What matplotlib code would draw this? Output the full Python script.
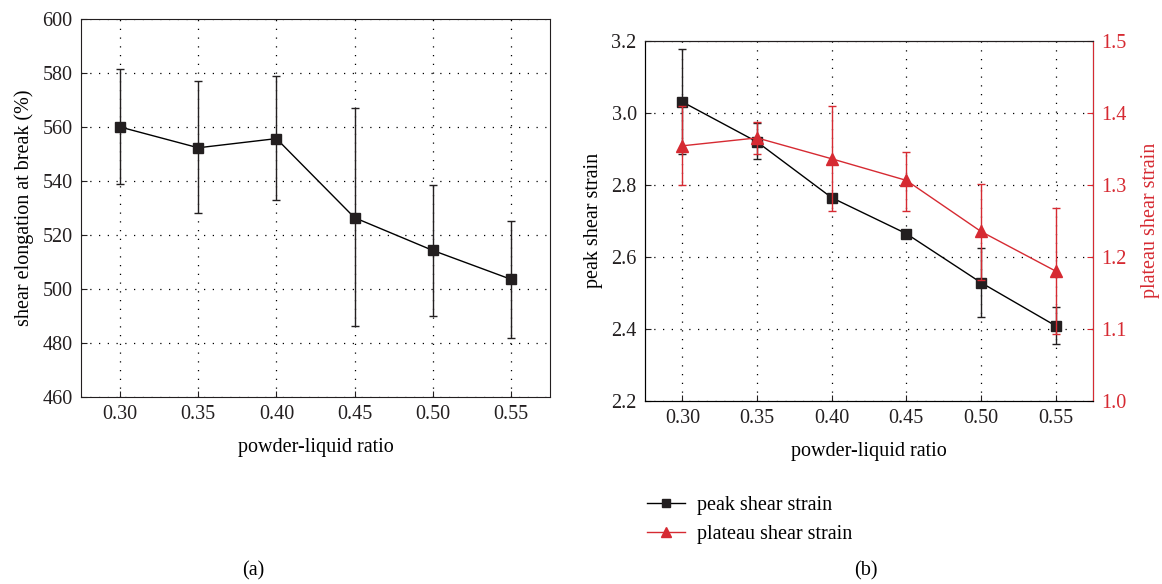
import numpy as np
import matplotlib
matplotlib.use("Agg")
import matplotlib.pyplot as plt
from matplotlib.lines import Line2D

plt.rcParams["font.family"] = ["Liberation Serif", "DejaVu Serif"]
plt.rcParams["font.size"] = 14.5

# -- data
ratio = [0.30, 0.35, 0.40, 0.45, 0.50, 0.55]

elong     = [560.0, 552.3, 555.7, 526.4, 514.3, 503.6]
elong_top = [581.5, 577.2, 578.8, 567.2, 538.6, 525.2]
elong_bot = [538.8, 528.3, 532.8, 486.3, 489.9, 481.9]

peak     = [3.030, 2.919, 2.764, 2.664, 2.528, 2.408]
peak_top = [3.176, 2.971, 2.774, 2.672, 2.623, 2.461]
peak_bot = [2.884, 2.871, 2.754, 2.656, 2.433, 2.357]

plat     = [1.354, 1.365, 1.336, 1.306, 1.235, 1.180]
plat_top = [1.410, 1.387, 1.409, 1.345, 1.301, 1.267]
plat_bot = [1.299, 1.342, 1.263, 1.263, 1.167, 1.092]

xticks = [0.30, 0.35, 0.40, 0.45, 0.50, 0.55]
red = "#d62a32"
dark = "#231f20"
grid_kw = dict(color="k", linestyle=(0, (1, 6)), linewidth=0.9)


def errs(v, top, bot):
    v = np.array(v)
    return [v - np.array(bot), np.array(top) - v]


plt.close("all")
fig = plt.figure(figsize=(11.62, 5.84), dpi=100)

# -- panel (a)
ax = fig.add_axes([0.0697, 0.3202, 0.4036, 0.6473])
ax.errorbar(ratio, elong, yerr=errs(elong, elong_top, elong_bot),
            color="k", lw=1.0, marker="s", ms=7, mfc=dark, mec=dark,
            ecolor=dark, elinewidth=1.0, capsize=3, capthick=1.0)
ax.set_xlim(0.275, 0.575)
ax.set_ylim(460, 600)
ax.set_xticks(xticks)
ax.set_xticklabels(["{0:.2f}".format(t) for t in xticks])
ax.set_yticks(np.arange(460, 601, 20))
ax.tick_params(direction="in", length=4, width=0.8, pad=6, colors=dark)
for s in ax.spines.values():
    s.set_color(dark)
ax.grid(True, **grid_kw)
ax.set_xlabel("powder-liquid ratio", labelpad=10)
ax.set_ylabel("shear elongation at break (%)", labelpad=6)

# -- panel (b)
bx = fig.add_axes([0.5551, 0.3139, 0.3855, 0.6164])
bx.errorbar(ratio, peak, yerr=errs(peak, peak_top, peak_bot),
            color="k", lw=1.0, marker="s", ms=7, mfc=dark, mec=dark,
            ecolor=dark, elinewidth=1.0, capsize=3, capthick=1.0, zorder=3)
bx.set_xlim(0.275, 0.575)
bx.set_ylim(2.2, 3.2)
bx.set_xticks(xticks)
bx.set_xticklabels(["{0:.2f}".format(t) for t in xticks])
bx.set_yticks(np.arange(2.2, 3.21, 0.2))
bx.yaxis.set_major_formatter(matplotlib.ticker.FormatStrFormatter("%.1f"))
bx.tick_params(direction="in", length=4, width=0.8, pad=6, colors=dark)
for s in bx.spines.values():
    s.set_color(dark)
bx.grid(True, **grid_kw)
bx.set_xlabel("powder-liquid ratio", labelpad=10)
bx.set_ylabel("peak shear strain", labelpad=6)

rx = bx.twinx()
rx.errorbar(ratio, plat, yerr=errs(plat, plat_top, plat_bot),
            color=red, lw=1.0, marker="^", ms=8, mfc=red, mec=red,
            ecolor=red, elinewidth=1.0, capsize=3, capthick=1.0, zorder=4)
rx.set_ylim(1.0, 1.5)
rx.set_yticks(np.arange(1.0, 1.51, 0.1))
rx.yaxis.set_major_formatter(matplotlib.ticker.FormatStrFormatter("%.1f"))
rx.tick_params(axis="y", direction="in", length=4, width=0.8, pad=6,
               colors=red, labelcolor=red)
rx.spines["right"].set_color(red)
rx.spines["top"].set_color(dark)
rx.set_ylabel("plateau shear strain", color=red, labelpad=10)

# -- legend under panel (b)
handles = [Line2D([], [], color="k", lw=1.0, marker="s", ms=6,
                  mfc=dark, mec=dark),
           Line2D([], [], color=red, lw=1.0, marker="^", ms=7,
                  mfc=red, mec=red)]
fig.legend(handles, ["peak shear strain", "plateau shear strain"],
           loc="upper left", bbox_to_anchor=(0.541, 0.182), frameon=False,
           handlelength=1.9, handletextpad=0.6, fontsize=14.5,
           labelspacing=0.5)

fig.text(0.218, 0.014, "(a)", ha="center", fontsize=14.5)
fig.text(0.745, 0.014, "(b)", ha="center", fontsize=14.5)

fig.savefig("out.png", dpi=100)
